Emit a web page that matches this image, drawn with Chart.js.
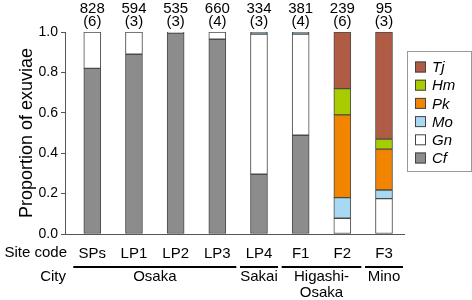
<!DOCTYPE html>
<html>
<head>
<meta charset="utf-8">
<script src="https://cdn.jsdelivr.net/npm/chart.js@4/dist/chart.umd.min.js"></script>
<style>
  body { margin: 0; background: #fff; }
  #wrap { width: 472px; height: 300px; }
</style>
</head>
<body>
<div id="wrap"><canvas id="CHART"></canvas></div>
<script>
const sites = ['SPs', 'LP1', 'LP2', 'LP3', 'LP4', 'F1', 'F2', 'F3'];
const totals = ['828', '594', '535', '660', '334', '381', '239', '95'];
const reps = ['(6)', '(3)', '(3)', '(4)', '(3)', '(4)', '(6)', '(3)'];

// proportions, bottom to top
const cf = [0.82, 0.89, 0.995, 0.964, 0.296, 0.489, 0, 0];
const gn = [0.18, 0.11, 0.005, 0.036, 0.694, 0.501, 0.078, 0.175];
const mo = [0, 0, 0, 0, 0.01, 0.01, 0.102, 0.043];
const pk = [0, 0, 0, 0, 0, 0, 0.41, 0.202];
const hm = [0, 0, 0, 0, 0, 0, 0.13, 0.05];
const tj = [0, 0, 0, 0, 0, 0, 0.28, 0.53];

const cities = ['Osaka', 'Sakai', 'Higashi-\nOsaka', 'Mino'];
const cityFirst = [0, 4, 5, 7];
const cityLast = [3, 4, 6, 7];

const FONT = '"Liberation Sans", Arial, sans-serif';

function pts(arr) {
  return arr.map((v, i) => ({ x: i, y: v || null }));
}

const series = [
  { label: 'Cf', data: cf, color: '#8c8c8c' },
  { label: 'Gn', data: gn, color: '#ffffff' },
  { label: 'Mo', data: mo, color: '#a9d9f2' },
  { label: 'Pk', data: pk, color: '#f28500' },
  { label: 'Hm', data: hm, color: '#a9cc00' },
  { label: 'Tj', data: tj, color: '#b05c45' }
];

const extras = {
  id: 'extras',
  afterDraw(chart) {
    const ctx = chart.ctx;
    const xs = chart.scales.x;
    const area = chart.chartArea;
    ctx.save();
    ctx.fillStyle = '#000';
    ctx.textAlign = 'center';
    ctx.textBaseline = 'middle';
    ctx.font = '15px ' + FONT;
    sites.forEach((s, i) => {
      const x = xs.getPixelForValue(i);
      ctx.fillText(totals[i], x, 9);
      ctx.fillText(reps[i], x, 22);
    });

    // row captions
    ctx.textAlign = 'right';
    ctx.fillText('Site code', 67, 253);
    ctx.fillText('City', 66, 277);

    // city groups
    ctx.textAlign = 'center';
    ctx.strokeStyle = '#000';
    ctx.lineWidth = 2;
    cities.forEach((c, k) => {
      const x0 = xs.getPixelForValue(cityFirst[k]) - 19;
      const x1 = xs.getPixelForValue(cityLast[k]) + 19;
      ctx.beginPath();
      ctx.moveTo(x0, 267);
      ctx.lineTo(x1, 267);
      ctx.stroke();
      c.split('\n').forEach((line, j) => {
        ctx.fillText(line, (x0 + x1) / 2, 277 + j * 16);
      });
    });

    // y title
    ctx.save();
    ctx.translate(27, (area.top + area.bottom) / 2);
    ctx.rotate(-Math.PI / 2);
    ctx.font = '18px ' + FONT;
    ctx.fillText('Proportion of exuviae', 0, 0);
    ctx.restore();

    // legend box
    ctx.strokeStyle = '#999';
    ctx.lineWidth = 1;
    ctx.strokeRect(407.5, 51.5, 64, 120);
    ctx.font = 'italic 15px ' + FONT;
    ctx.textAlign = 'left';
    series.slice().reverse().forEach((s, j) => {
      const y = 67 + j * 18.2;
      ctx.fillStyle = s.color;
      ctx.fillRect(415, y - 5.5, 11, 11);
      ctx.strokeStyle = '#444';
      ctx.strokeRect(415.5, y - 5, 10, 10);
      ctx.fillStyle = '#000';
      ctx.fillText(s.label, 432, y + 1);
    });
    ctx.restore();
  }
};

new Chart(document.getElementById('CHART'), {
  type: 'bar',
  data: {
    datasets: series.map(s => ({
      label: s.label,
      data: pts(s.data),
      backgroundColor: s.color,
      borderColor: '#4a4a4a',
      borderWidth: 1,
      borderSkipped: false,
      barThickness: 17
    }))
  },
  options: {
    responsive: true,
    maintainAspectRatio: false,
    animation: false,
    layout: { padding: { top: 32, right: 68, left: 0, bottom: 0 } },
    plugins: {
      legend: { display: false },
      tooltip: { enabled: false }
    },
    scales: {
      x: {
        type: 'linear',
        stacked: true,
        offset: false,
        min: -0.655,
        max: 7.48,
        afterBuildTicks: s => { s.ticks = sites.map((c, i) => ({ value: i })); },
        afterFit: s => { s.height = 66; },
        grid: { display: false },
        border: { display: true, color: '#555', width: 1 },
        ticks: {
          padding: 3,
          autoSkip: false,
          maxRotation: 0,
          color: '#000',
          font: { family: FONT, size: 15 },
          callback: v => sites[v]
        }
      },
      y: {
        stacked: true,
        min: 0,
        max: 1,
        afterFit: s => { s.width = 65; },
        grid: { display: true, drawOnChartArea: false, drawTicks: true, tickLength: 4, color: '#555' },
        border: { display: true, color: '#555', width: 1 },
        ticks: {
          stepSize: 0.2,
          padding: 3,
          color: '#000',
          font: { family: FONT, size: 14 },
          callback: v => v.toFixed(1)
        }
      }
    }
  },
  plugins: [extras]
});
</script>
</body>
</html>
